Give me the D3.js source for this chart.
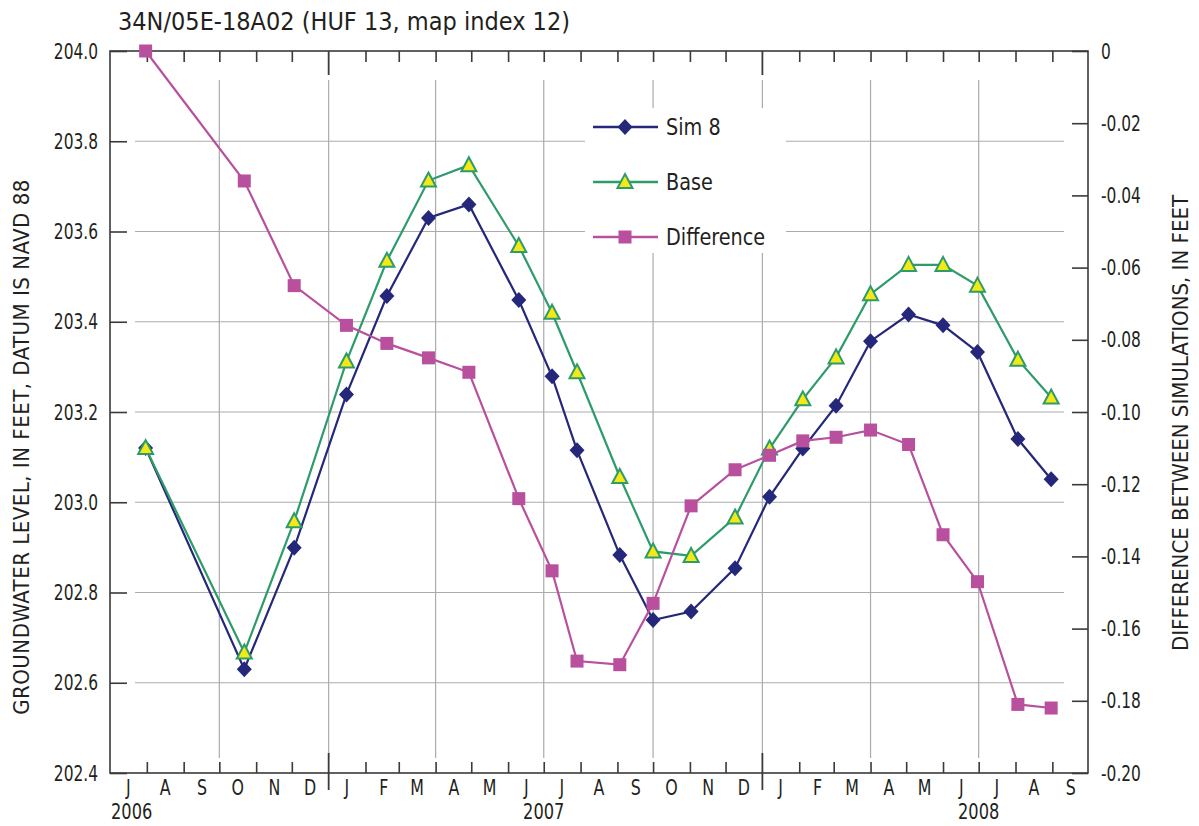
<!DOCTYPE html>
<html>
<head>
<meta charset="utf-8">
<script src="https://cdn.jsdelivr.net/npm/d3@7"></script>
<style>
  html, body { margin: 0; padding: 0; background: #fff; }
  svg { display: block; }
  text { font-family: "Liberation Sans Narrow", "Arial Narrow", "DejaVu Sans Condensed", sans-serif; fill: #231f20; }
  .narrow { transform-box: fill-box; }
</style>
</head>
<body>
<div id="chart"></div>
<script>
// ---- data ----
const chartTitle = "34N/05E-18A02 (HUF 13, map index 12)";
const leftTitle = "GROUNDWATER LEVEL, IN FEET, DATUM IS NAVD 88";
const rightTitle = "DIFFERENCE BETWEEN SIMULATIONS, IN FEET";

const sampleDates = ["2006-07-31", "2006-10-22", "2006-12-03", "2007-01-16", "2007-02-19",
  "2007-03-26", "2007-04-29", "2007-06-10", "2007-07-08", "2007-07-29", "2007-09-03",
  "2007-10-01", "2007-11-02", "2007-12-09", "2008-01-07", "2008-02-04", "2008-03-03",
  "2008-04-01", "2008-05-03", "2008-06-01", "2008-06-30", "2008-08-03", "2008-08-31"];

const sim8 = [203.12, 202.63, 202.899, 203.239, 203.457, 203.630, 203.660, 203.448, 203.279,
  203.115, 202.883, 202.739, 202.758, 202.854, 203.012, 203.119, 203.214, 203.357, 203.416,
  203.392, 203.333, 203.140, 203.051];

const base = [203.12, 202.667, 202.958, 203.312, 203.535, 203.713, 203.747, 203.568, 203.420,
  203.288, 203.056, 202.891, 202.881, 202.966, 203.119, 203.228, 203.321, 203.461, 203.526,
  203.526, 203.480, 203.316, 203.232];

const difference = [0, -0.036, -0.065, -0.076, -0.081, -0.085, -0.089, -0.124, -0.144, -0.169,
  -0.170, -0.153, -0.126, -0.116, -0.112, -0.108, -0.107, -0.105, -0.109, -0.134, -0.147,
  -0.181, -0.182];

const leftTicks = [202.4, 202.6, 202.8, 203.0, 203.2, 203.4, 203.6, 203.8, 204.0];
const rightTicks = [0, -0.02, -0.04, -0.06, -0.08, -0.10, -0.12, -0.14, -0.16, -0.18, -0.20];
const monthLetters = ["J", "F", "M", "A", "M", "J", "J", "A", "S", "O", "N", "D"];
const yearLabels = ["2006", "2007", "2008"];
const legendNames = ["Sim 8", "Base", "Difference"];

// ---- layout ----
const W = 1199, H = 826;
const margin = { top: 51, right: 111, bottom: 53, left: 110 };
const innerW = W - margin.left - margin.right;
const innerH = H - margin.top - margin.bottom;

const navy = "#25287a", green = "#2e9b6b", yellow = "#f4e816", magenta = "#b8509e", grid = "#ababab", axisCol = "#3a3a3a";

// the source face is a condensed sans; squeeze the installed one to match widths
function squeeze(sel, k, origin) {
  sel.classed("narrow", true)
    .style("transform-origin", origin)
    .style("transform", `scaleX(${k})`);
}

const parse = d3.timeParse("%Y-%m-%d");
const rows = sampleDates.map((d, i) => ({
  date: parse(d), sim: sim8[i], base: base[i], diff: difference[i]
}));

const x = d3.scaleTime()
  .domain([new Date(2006, 6, 1), new Date(2008, 9, 1)])
  .range([0, innerW]);
const yL = d3.scaleLinear().domain([202.4, 204.0]).range([innerH, 0]);
const yR = d3.scaleLinear().domain([-0.2, 0]).range([innerH, 0]);

const svg = d3.select("#chart").append("svg")
  .attr("width", W).attr("height", H);

const g = svg.append("g").attr("transform", `translate(${margin.left},${margin.top})`);

// gridlines (they stop short of the frame)
const quarters = x.ticks(d3.timeMonth.every(3)).filter(d => +d > +x.domain()[0] && +d < +x.domain()[1]);
g.append("g").selectAll("line").data(quarters).join("line")
  .attr("x1", d => x(d)).attr("x2", d => x(d))
  .attr("y1", 29).attr("y2", innerH - 15)
  .attr("stroke", grid).attr("stroke-width", 1.2);

g.append("g").selectAll("line").data(leftTicks.slice(1, -1)).join("line")
  .attr("x1", 25).attr("x2", innerW - 24)
  .attr("y1", d => yL(d)).attr("y2", d => yL(d))
  .attr("stroke", grid).attr("stroke-width", 1.2);

// legend box masks the grid
g.append("rect")
  .attr("x", 585 - margin.left).attr("y", 108 - margin.top)
  .attr("width", 201).attr("height", 145)
  .attr("fill", "#fff");

// frame
g.append("rect").attr("width", innerW).attr("height", innerH)
  .attr("fill", "none").attr("stroke", axisCol).attr("stroke-width", 1.6);

// month ticks (bottom and top), pointing inward
const months = x.ticks(d3.timeMonth.every(1));
const yearStarts = months.filter(d => d.getMonth() === 0);
const monthInner = months.filter(d => d.getMonth() !== 0 && +d > +x.domain()[0] && +d < +x.domain()[1]);

const bottomAxis = g.append("g").attr("transform", `translate(0,${innerH})`)
  .call(d3.axisBottom(x).tickValues(monthInner).tickSize(-11).tickFormat(""));
const topAxis = g.append("g")
  .call(d3.axisTop(x).tickValues(monthInner).tickSize(-11).tickFormat(""));
[bottomAxis, topAxis].forEach(a => {
  a.select(".domain").remove();
  a.selectAll("line").attr("stroke", axisCol).attr("stroke-width", 1.6);
});

// year boundaries: long ticks
g.append("g").selectAll("line").data(yearStarts).join("line")
  .attr("x1", d => x(d)).attr("x2", d => x(d))
  .attr("y1", innerH - 20).attr("y2", innerH + 17)
  .attr("stroke", axisCol).attr("stroke-width", 1.8);
g.append("g").selectAll("line").data(yearStarts).join("line")
  .attr("x1", d => x(d)).attr("x2", d => x(d))
  .attr("y1", 0).attr("y2", 24)
  .attr("stroke", axisCol).attr("stroke-width", 1.8);

// month letters, centred in each month
const monthMids = months.filter(d => +d < +x.domain()[1]).map(d => d3.timeDay.offset(d, 15));
const monthLabelAxis = g.append("g").attr("transform", `translate(0,${innerH})`)
  .call(d3.axisBottom(x).tickValues(monthMids).tickSize(0).tickPadding(6)
    .tickFormat(d => monthLetters[d.getMonth()]));
monthLabelAxis.select(".domain").remove();
monthLabelAxis.selectAll("text").style("font-size", "22px").attr("fill", "#231f20")
  .call(squeeze, 0.8, "50% 50%");

// year labels centred on 1 July (first one starts at the frame)
g.append("g").selectAll("text").data(yearLabels).join("text")
  .attr("x", (d, i) => i === 0 ? 1 : x(new Date(+d, 6, 1)))
  .attr("y", innerH + 46)
  .attr("text-anchor", (d, i) => i === 0 ? "start" : "middle")
  .style("font-size", "22px")
  .text(d => d)
  .each(function (d, i) { d3.select(this).call(squeeze, 0.82, i === 0 ? "0% 50%" : "50% 50%"); });

// left axis
const leftAxis = g.append("g")
  .call(d3.axisLeft(yL).tickValues(leftTicks).tickSize(-17).tickPadding(12).tickFormat(d3.format(".1f")));
leftAxis.select(".domain").remove();
leftAxis.selectAll("line").attr("stroke", axisCol).attr("stroke-width", 1.6);
leftAxis.selectAll("text").style("font-size", "22px").attr("fill", "#231f20")
  .call(squeeze, 0.78, "100% 50%");

// right axis
const fmtR = d => d === 0 ? "0" : d3.format(".2f")(d).replace("−", "-");
const rightAxis = g.append("g").attr("transform", `translate(${innerW},0)`)
  .call(d3.axisRight(yR).tickValues(rightTicks).tickSize(-16).tickPadding(13).tickFormat(fmtR));
rightAxis.select(".domain").remove();
rightAxis.selectAll("line").attr("stroke", axisCol).attr("stroke-width", 1.6);
rightAxis.selectAll("text").style("font-size", "22px").attr("fill", "#231f20")
  .call(squeeze, 0.78, "0% 50%");

// ---- series ----
const diamond = "M0,-8L7.5,0L0,8L-7.5,0Z";
const triangle = "M0,-8L7.5,6L-7.5,6Z";

const lineSim = d3.line().x(d => x(d.date)).y(d => yL(d.sim));
const lineBase = d3.line().x(d => x(d.date)).y(d => yL(d.base));
const lineDiff = d3.line().x(d => x(d.date)).y(d => yR(d.diff));

g.append("path").datum(rows).attr("d", lineSim)
  .attr("fill", "none").attr("stroke", navy).attr("stroke-width", 2.2);
g.append("g").selectAll("path").data(rows).join("path")
  .attr("transform", d => `translate(${x(d.date)},${yL(d.sim)})`)
  .attr("d", diamond).attr("fill", navy);

g.append("path").datum(rows).attr("d", lineBase)
  .attr("fill", "none").attr("stroke", green).attr("stroke-width", 2.2);
g.append("g").selectAll("path").data(rows).join("path")
  .attr("transform", d => `translate(${x(d.date)},${yL(d.base)})`)
  .attr("d", triangle).attr("fill", yellow).attr("stroke", green).attr("stroke-width", 2);

g.append("path").datum(rows).attr("d", lineDiff)
  .attr("fill", "none").attr("stroke", magenta).attr("stroke-width", 2.2);
g.append("g").selectAll("rect").data(rows).join("rect")
  .attr("x", d => x(d.date) - 6.5).attr("y", d => yR(d.diff) - 6.5)
  .attr("width", 13).attr("height", 13).attr("fill", magenta);

// ---- legend ----
const legend = svg.append("g");
const legendY = [127, 182, 237];
legendNames.forEach((name, i) => {
  const row = legend.append("g").attr("transform", `translate(593,${legendY[i]})`);
  const col = [navy, green, magenta][i];
  row.append("line").attr("x1", 0).attr("x2", 65).attr("stroke", col).attr("stroke-width", 2.4);
  if (i === 0) row.append("path").attr("d", diamond).attr("transform", "translate(32,0)").attr("fill", navy);
  if (i === 1) row.append("path").attr("d", triangle).attr("transform", "translate(32,0)")
    .attr("fill", yellow).attr("stroke", green).attr("stroke-width", 2);
  if (i === 2) row.append("rect").attr("x", 25.5).attr("y", -6.5).attr("width", 13).attr("height", 13).attr("fill", magenta);
  row.append("text").attr("x", 73).attr("dy", "0.36em")
    .style("font-size", "23px").text(name)
    .call(squeeze, 0.93, "0% 50%");
});

// ---- titles ----
svg.append("text").attr("x", 118).attr("y", 30)
  .style("font-size", "25px").text(chartTitle);

svg.append("text")
  .attr("transform", "translate(29,447) rotate(-90)")
  .attr("text-anchor", "middle")
  .style("font-size", "22px").style("letter-spacing", "0.5px").text(leftTitle);

svg.append("text")
  .attr("transform", "translate(1188,423) rotate(-90)")
  .attr("text-anchor", "middle")
  .style("font-size", "22px").text(rightTitle);
</script>
</body>
</html>
